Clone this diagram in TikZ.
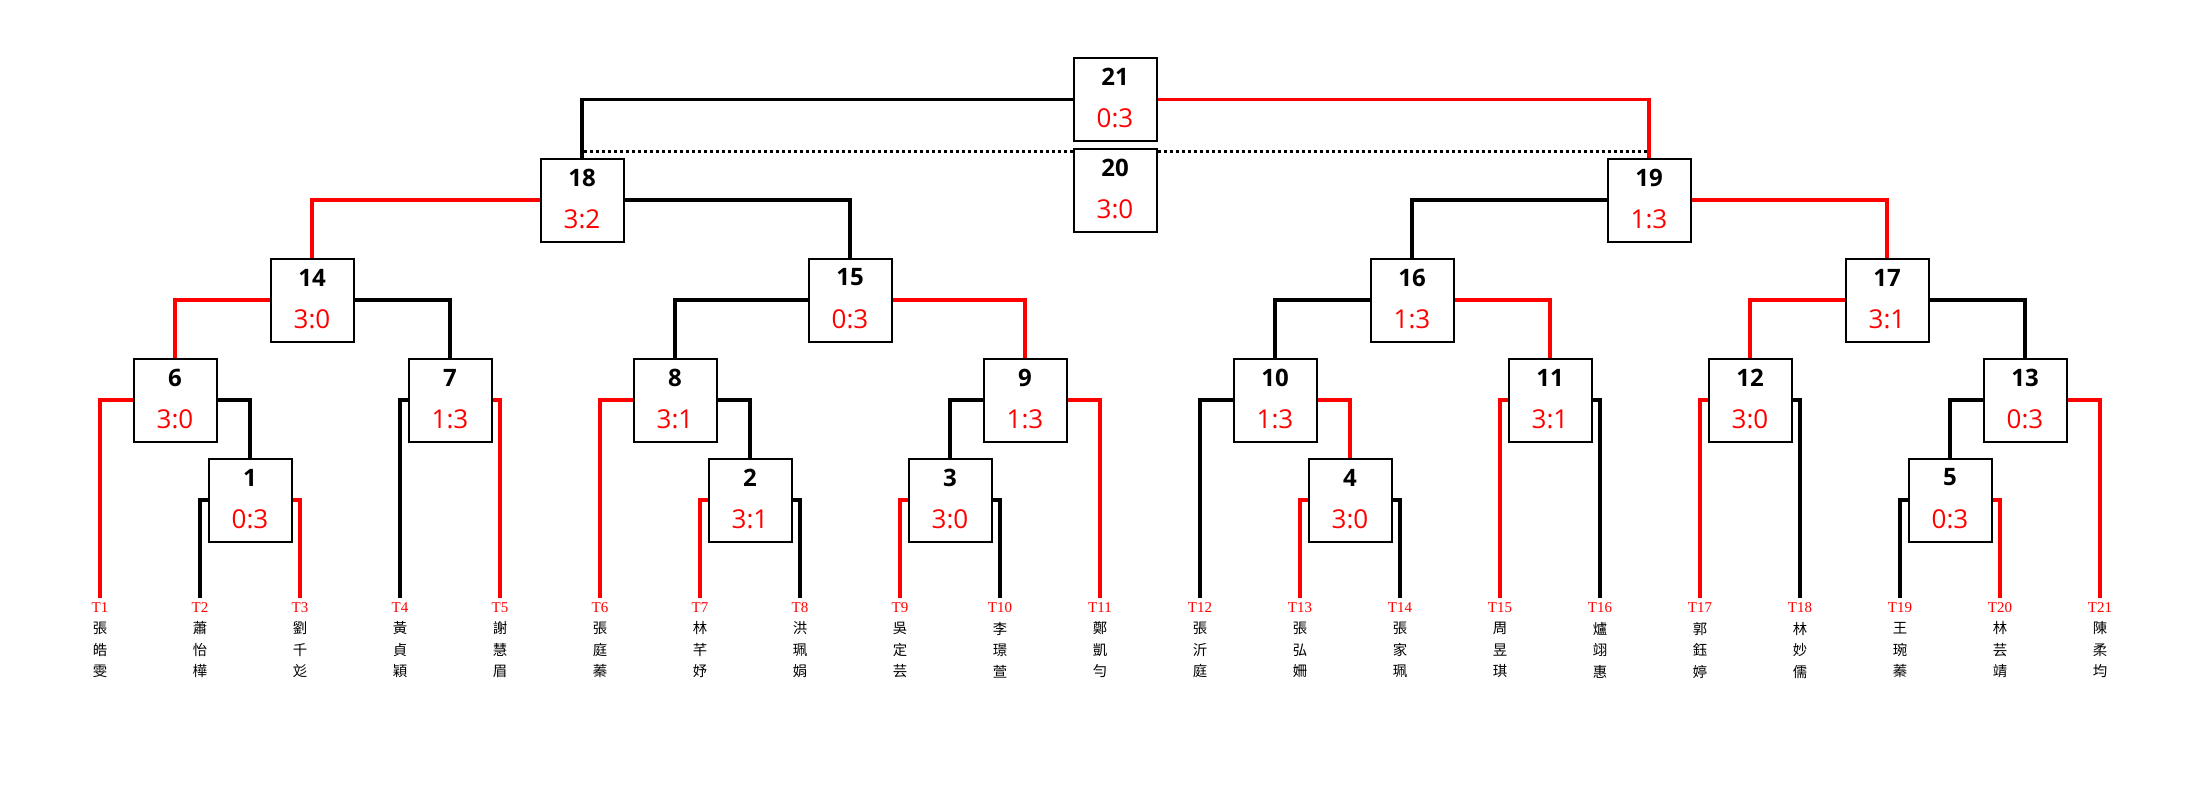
\documentclass[tikz,border=0pt]{standalone}
\usepackage{fontspec}
\setmainfont{Open Sans}
\newfontfamily\cjk{Noto Sans CJK TC}
\newfontfamily\tfont{Liberation Serif}
\definecolor{rd}{RGB}{255,0,0}
\tikzset{
 box/.style={draw=black, line width=1pt, fill=white, minimum width=41.5pt, minimum height=41.5pt, inner sep=0pt},
 numtxt/.style={font=\fontsize{12pt}{14pt}\selectfont\bfseries, inner sep=0pt},
 scoretxt/.style={font=\fontsize{13pt}{15pt}\selectfont, text=rd, inner sep=0pt},
 bl/.style={draw=black, line width=1.75pt},
 rl/.style={draw=rd, line width=1.75pt},
 dotl/.style={draw=black, line width=1.6pt, dash pattern=on 1.5pt off 1.5pt},
 tlab/.style={font=\tfont\fontsize{7.5pt}{9pt}\selectfont, text=rd, inner sep=0pt},
 nm/.style={font=\cjk\fontsize{7.2pt}{10.75pt}\selectfont, align=center, inner sep=0pt},
}
\newcommand\MBox[4]{%
 \node[box] (b#1) at (#2,#3) {};
 \node[numtxt] (n#1) at ([yshift=11.25pt]b#1.center) {#1};
 \node[scoretxt] (s#1) at ([yshift=-9.5pt]b#1.center) {#4};
}
\newcommand\Leaf[2]{%
 \coordinate (t#1) at (100*#1,598);
 \node[tlab] (l#1) at (100*#1,608) {T#1};
 \node[nm] (m#1) at (100*#1,650) {#2};
}
\begin{document}
\begin{tikzpicture}[x=0.5pt,y=-0.5pt]
\fill[white] (0,0) rectangle (2200,800);
\useasboundingbox (0,0) rectangle (2200,800);

\MBox{21}{1115}{99.5}{0:3}
\MBox{20}{1115}{190}{3:0}
\MBox{18}{582}{200}{3:2}
\MBox{19}{1649}{200}{1:3}
\MBox{14}{312}{300}{3:0}
\MBox{15}{850}{300}{0:3}
\MBox{16}{1412}{300}{1:3}
\MBox{17}{1887}{300}{3:1}
\MBox{6}{175}{400}{3:0}
\MBox{7}{450}{400}{1:3}
\MBox{8}{675}{400}{3:1}
\MBox{9}{1025}{400}{1:3}
\MBox{10}{1275}{400}{1:3}
\MBox{11}{1550}{400}{3:1}
\MBox{12}{1750}{400}{3:0}
\MBox{13}{2025}{400}{0:3}
\MBox{1}{250}{500}{0:3}
\MBox{2}{750}{500}{3:1}
\MBox{3}{950}{500}{3:0}
\MBox{4}{1350}{500}{3:0}
\MBox{5}{1950}{500}{0:3}

\Leaf{1}{張\\皓\\雯}
\Leaf{2}{蕭\\怡\\樺}
\Leaf{3}{劉\\千\\彣}
\Leaf{4}{黃\\貞\\穎}
\Leaf{5}{謝\\慧\\眉}
\Leaf{6}{張\\庭\\蓁}
\Leaf{7}{林\\芊\\妤}
\Leaf{8}{洪\\珮\\娟}
\Leaf{9}{吳\\定\\芸}
\Leaf{10}{李\\璟\\萱}
\Leaf{11}{鄭\\凱\\勻}
\Leaf{12}{張\\沂\\庭}
\Leaf{13}{張\\弘\\姍}
\Leaf{14}{張\\家\\珮}
\Leaf{15}{周\\昱\\琪}
\Leaf{16}{爐\\翊\\惠}
\Leaf{17}{郭\\鈺\\婷}
\Leaf{18}{林\\妙\\儒}
\Leaf{19}{王\\琬\\蓁}
\Leaf{20}{林\\芸\\靖}
\Leaf{21}{陳\\柔\\均}

% final
\draw[bl] (b21.west) -| (b18.north);
\draw[rl] (b21.east) -| (b19.north);
\draw[dotl] ([yshift=-2pt]b20.north west) -- ([yshift=-2pt]b20.north west -| b18.north);
\draw[dotl] ([yshift=-2pt]b20.north east) -- ([yshift=-2pt]b20.north east -| b19.north);
% semis
\draw[rl] (b18.west) -| (b14.north);
\draw[bl] (b18.east) -| (b15.north);
\draw[bl] (b19.west) -| (b16.north);
\draw[rl] (b19.east) -| (b17.north);
% quarters
\draw[rl] (b14.west) -| (b6.north);
\draw[bl] (b14.east) -| (b7.north);
\draw[bl] (b15.west) -| (b8.north);
\draw[rl] (b15.east) -| (b9.north);
\draw[bl] (b16.west) -| (b10.north);
\draw[rl] (b16.east) -| (b11.north);
\draw[rl] (b17.west) -| (b12.north);
\draw[bl] (b17.east) -| (b13.north);
% round of 16
\draw[rl] (b6.west) -| (t1);
\draw[bl] (b6.east) -| (b1.north);
\draw[bl] (b7.west) -| (t4);
\draw[rl] (b7.east) -| (t5);
\draw[rl] (b8.west) -| (t6);
\draw[bl] (b8.east) -| (b2.north);
\draw[bl] (b9.west) -| (b3.north);
\draw[rl] (b9.east) -| (t11);
\draw[bl] (b10.west) -| (t12);
\draw[rl] (b10.east) -| (b4.north);
\draw[rl] (b11.west) -| (t15);
\draw[bl] (b11.east) -| (t16);
\draw[rl] (b12.west) -| (t17);
\draw[bl] (b12.east) -| (t18);
\draw[bl] (b13.west) -| (b5.north);
\draw[rl] (b13.east) -| (t21);
% first round
\draw[bl] (b1.west) -| (t2);
\draw[rl] (b1.east) -| (t3);
\draw[rl] (b2.west) -| (t7);
\draw[bl] (b2.east) -| (t8);
\draw[rl] (b3.west) -| (t9);
\draw[bl] (b3.east) -| (t10);
\draw[rl] (b4.west) -| (t13);
\draw[bl] (b4.east) -| (t14);
\draw[bl] (b5.west) -| (t19);
\draw[rl] (b5.east) -| (t20);
\end{tikzpicture}
\end{document}
